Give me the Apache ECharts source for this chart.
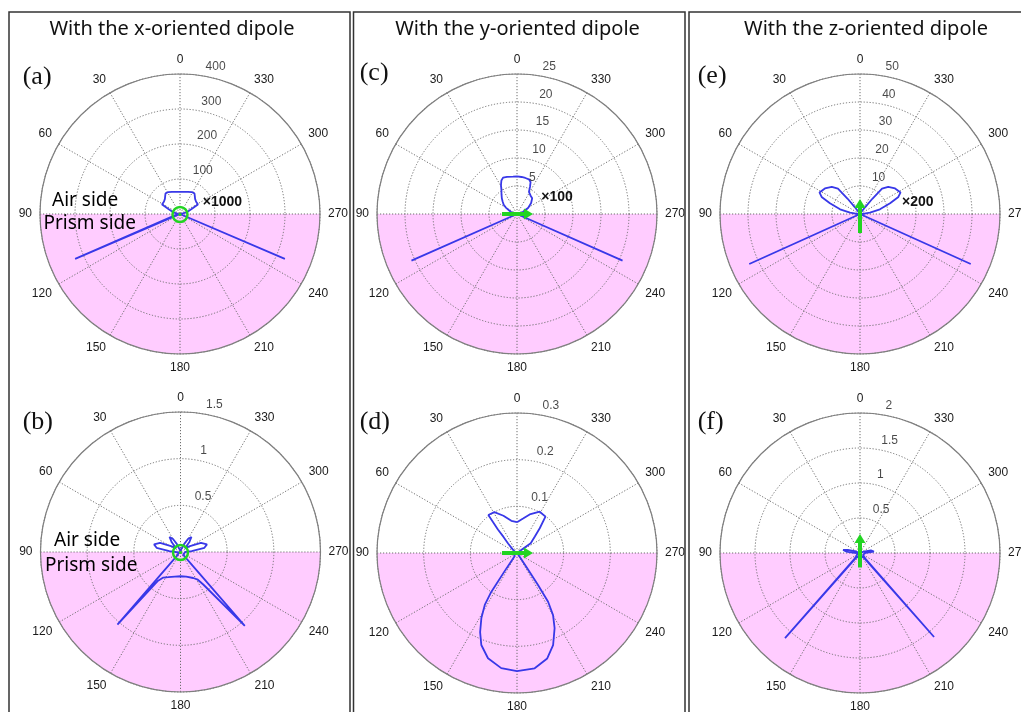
<!DOCTYPE html>
<html><head><meta charset="utf-8">
<script src="https://cdn.jsdelivr.net/npm/echarts@6.0.0/dist/echarts.min.js"></script>
<style>html,body{margin:0;padding:0;background:#fff}#c{width:1021px;height:712px}</style>
</head><body><div id="c"></div><script>
// ---- text ----
const titles = ['With the x-oriented dipole', 'With the y-oriented dipole', 'With the z-oriented dipole'];
const panelLetters = ['(a)', '(b)', '(c)', '(d)', '(e)', '(f)'];
const scaleNotes = ['×1000', '×100', '×200'];
const sideLabels = ['Air side', 'Prism side'];

// ---- radial tick values ----
const aRadiusTicks = [100, 200, 300, 400];
const bRadiusTicks = [0.5, 1, 1.5];
const cRadiusTicks = [5, 10, 15, 20, 25];
const dRadiusTicks = [0.1, 0.2, 0.3];
const eRadiusTicks = [10, 20, 30, 40, 50];
const fRadiusTicks = [0.5, 1, 1.5, 2];

// ---- patterns: angle (deg, 0 = up, counter-clockwise) and value ----
const aAngles = [0,10,20,28,35,40,45,52,58,62,67,76,85,90,100,112.2,113.2,114.2,130,180,230,245.8,246.8,247.8,260,270,275,284,293,298,302,308,315,320,325,332,340,350,360];
const aValues = [63,64,67,71,72,66,61,58,58,58,36,20,5,0,0,0,326,0,0,0,0,0,326,0,0,0,5,20,36,58,58,58,61,66,72,71,67,64,63];

const bAngles = [0,15,25,30,36,42,50,58,66,74,80,86,90,100,120,135,138.2,139,142,146,154,167,180,193,206,212,215,221,221.8,225,240,260,270,274,280,286,294,302,310,318,324,330,335,345,360];
const bValues = [0.01,0.03,0.1,0.16,0.2,0.14,0.06,0.12,0.24,0.295,0.26,0.12,0.05,0.02,0.02,0.04,0.1,1.03,0.39,0.33,0.30,0.27,0.26,0.27,0.31,0.35,0.425,1.05,0.1,0.04,0.02,0.02,0.05,0.12,0.26,0.295,0.24,0.12,0.06,0.14,0.2,0.16,0.1,0.03,0.01];

const cAngles = [0,6,15,21,25,29,33,38,44,49,55,60,70,80,90,100,112.8,113.8,114.8,130,180,230,245.2,246.2,247.2,260,270,280,290,299,308,316,324,331.7,334.5,337,341,347,353,360];
const cValues = [6.7,6.7,6.85,6.95,6.6,5.9,5.1,4.5,3.9,3.4,2.9,2.3,1.2,0.4,0,0,0,20.6,0,0,0,0,0,20.6,0,0,0,0.4,1.3,2.3,3.2,3.9,4.1,4.5,5.4,6.2,6.55,6.6,6.66,6.7];

const dAngles = [0,10,20,29,37,39,40,43,50,60,90,120,140,144,145.5,146.5,148.2,151.3,155,158.8,164.6,172.2,180,188.7,196,201.4,206.6,210.1,212.5,213.3,213.8,215,220,270,300,305.3,312.6,317.4,322,331.2,341.8,350,360];
const dValues = [0.066,0.07,0.085,0.1,0.102,0.065,0.045,0.028,0.012,0.004,0,0,0,0.01,0.04,0.1,0.131,0.159,0.187,0.2115,0.234,0.249,0.253,0.25,0.235,0.212,0.18,0.154,0.124,0.082,0.04,0.01,0,0,0.004,0.036,0.052,0.072,0.099,0.101,0.087,0.075,0.066];

const eAngles = [0,20,32,37,39,41,46,54,62,66,70.4,76.8,82.6,87,90,100,113.3,114.3,115.3,130,180,230,244.7,245.7,246.7,260,270,273,277.4,283.2,289.6,294,298,306,314,319,321,323,328,340,360];
const eValues = [0,0.2,0.8,3,7,12,14,15.5,16.4,15,11.4,7.3,3.6,1,0,0,0,43.4,0,0,0,0,0,43.4,0,0,0,1,3.6,7.3,11.4,15,16.4,15.5,14,12,7,3,0.8,0.2,0];

const fAngles = [0,60,70,76,80,84,88,90,100,120,134,136.8,138.6,140.2,143,160,180,200,217,219.8,221.4,223.2,226,240,260,270,272,276,280,284,290,300,360];
const fValues = [0,0.01,0.08,0.18,0.245,0.2,0.08,0.03,0.02,0.05,0.08,0.12,1.62,0.12,0.08,0.05,0.04,0.05,0.08,0.12,1.60,0.12,0.08,0.05,0.02,0.03,0.08,0.2,0.22,0.16,0.06,0.01,0];

// ---- styles ----
const BLUE = '#3838e8';
const GREEN = '#22d422';
const PINK = '#ffccff';
const GRID = '#6f6f6f';
const LABEL_FONT = 'Liberation Sans, Arial, sans-serif';

function makePink(max) {
  return function (params, api) {
    const c = api.coord([0, 0]);
    const e = api.coord([max, 90]);
    const r = Math.hypot(e[0] - c[0], e[1] - c[1]);
    return { type: 'sector', shape: { cx: c[0], cy: c[1], r: r, r0: 0, startAngle: 0, endAngle: Math.PI, clockwise: true }, style: { fill: PINK } };
  };
}
function ringMarker(params, api) {
  const c = api.coord([0, 0]);
  return { type: 'group', children: [
    { type: 'circle', shape: { cx: c[0], cy: c[1] + 0.5, r: 7.5 }, style: { fill: 'none', stroke: GREEN, lineWidth: 2.5 } },
    { type: 'circle', shape: { cx: c[0], cy: c[1] + 0.5, r: 1.6 }, style: { fill: GREEN } }
  ] };
}
function makeArrow(x0, y0, x1, y1) {
  return function (params, api) {
    const c = api.coord([0, 0]);
    const L = Math.hypot(x1 - x0, y1 - y0);
    const ux = (x1 - x0) / L, uy = (y1 - y0) / L;
    const hl = 9, hw = 5.5;
    const bx = c[0] + x1 - ux * hl, by = c[1] + y1 - uy * hl;
    return { type: 'group', children: [
      { type: 'line', shape: { x1: c[0] + x0, y1: c[1] + y0, x2: bx + ux, y2: by + uy }, style: { stroke: GREEN, lineWidth: 4 } },
      { type: 'polygon', shape: { points: [[bx - uy * hw, by + ux * hw], [c[0] + x1, c[1] + y1], [bx + uy * hw, by - ux * hw]] }, style: { fill: GREEN } }
    ] };
  };
}

const panels = [
  { center: [180, 214], ticks: aRadiusTicks, ang: aAngles, val: aValues, marker: ringMarker },
  { center: [180.5, 552], ticks: bRadiusTicks, ang: bAngles, val: bValues, marker: ringMarker },
  { center: [517, 214], ticks: cRadiusTicks, ang: cAngles, val: cValues, marker: makeArrow(-15, 0, 16, 0) },
  { center: [517, 553], ticks: dRadiusTicks, ang: dAngles, val: dValues, marker: makeArrow(-15, 0, 16, 0) },
  { center: [860, 214], ticks: eRadiusTicks, ang: eAngles, val: eValues, marker: makeArrow(0, 19, 0, -15) },
  { center: [860, 553], ticks: fRadiusTicks, ang: fAngles, val: fValues, marker: makeArrow(0, 14.5, 0, -19) }
];

const polar = [], angleAxis = [], radiusAxis = [], series = [];
const gridLine = { color: GRID, type: [1.2, 1.8], width: 1 };
panels.forEach((p, i) => {
  const max = p.ticks[p.ticks.length - 1];
  polar.push({ center: p.center, radius: 140 });
  angleAxis.push({
    polarIndex: i, type: 'value', min: 0, max: 360, interval: 30, startAngle: 90, clockwise: false, z: 5,
    axisLine: { show: true, lineStyle: { color: '#7f7f7f', width: 1.2 } },
    axisTick: { show: false },
    axisLabel: { show: true, margin: 8, fontSize: 12, fontFamily: LABEL_FONT, color: '#1a1a1a',
      formatter: v => (v === 360 ? '' : String(v)) },
    splitLine: { show: true, lineStyle: gridLine }
  });
  radiusAxis.push({
    polarIndex: i, type: 'value', min: 0, max: max, interval: p.ticks[0], z: 5,
    axisLine: { show: false }, axisTick: { show: false }, axisLabel: { show: false },
    splitLine: { show: true, lineStyle: gridLine }
  });
  series.push({ type: 'custom', coordinateSystem: 'polar', polarIndex: i, data: [[0, 0]], renderItem: makePink(max), z: 1, silent: true });
  series.push({ type: 'line', coordinateSystem: 'polar', polarIndex: i,
    data: p.ang.map((a, k) => [p.val[k], a]),
    showSymbol: false, symbol: 'none', lineStyle: { color: BLUE, width: 1.8 }, z: 10, silent: true });
  series.push({ type: 'custom', coordinateSystem: 'polar', polarIndex: i, data: [[0, 0]], renderItem: p.marker, z: 12, silent: true });
  series.push({ type: 'scatter', coordinateSystem: 'polar', polarIndex: i,
    data: p.ticks.map(t => [t, 353]), symbolSize: 1, itemStyle: { color: 'rgba(0,0,0,0)' }, z: 12, silent: true,
    label: { show: true, formatter: q => String(q.value[0]), position: [9, -8], align: 'left', verticalAlign: 'middle',
      fontSize: 12, fontFamily: LABEL_FONT, color: '#1a1a1a' } });
});

const TXT = 'Noto Sans, Open Sans, sans-serif';
const graphic = [];
[[9, 341], [353.5, 331.5], [689, 340]].forEach(b => graphic.push({ type: 'rect', z: 100,
  shape: { x: b[0], y: 12, width: b[1], height: 720 }, style: { fill: 'none', stroke: '#333', lineWidth: 1.5 } }));
[172, 517.5, 866].forEach((x, i) => graphic.push({ type: 'text', z: 100, x: x, y: 29,
  style: { text: titles[i], font: '20px ' + TXT, fill: '#111', align: 'center', verticalAlign: 'middle' } }));
[[22.7, 77], [22.7, 422], [359.7, 73], [359.7, 422], [697.7, 76], [697.7, 422]].forEach((q, i) => graphic.push({ type: 'text', z: 100,
  x: q[0], y: q[1], style: { text: panelLetters[i], font: '26px Liberation Serif, Times New Roman, serif', fill: '#111', align: 'left', verticalAlign: 'middle' } }));
[[202.7, 202], [541.3, 197], [902, 202]].forEach((q, i) => graphic.push({ type: 'text', z: 100,
  x: q[0], y: q[1], style: { text: scaleNotes[i], font: 'bold 14px ' + LABEL_FONT, fill: '#111', align: 'left', verticalAlign: 'middle' } }));
[[52, 201, 0], [43.5, 224, 1], [54, 541, 0], [45, 565.5, 1]].forEach(q => graphic.push({ type: 'text', z: 100,
  x: q[0], y: q[1], style: { text: sideLabels[q[2]], font: '19px ' + TXT, fill: '#000', align: 'left', verticalAlign: 'middle' } }));

const chart = echarts.init(document.getElementById('c'), null, { renderer: 'canvas' });
chart.setOption({ animation: false, backgroundColor: '#fff', polar, angleAxis, radiusAxis, series, graphic });
</script></body></html>
